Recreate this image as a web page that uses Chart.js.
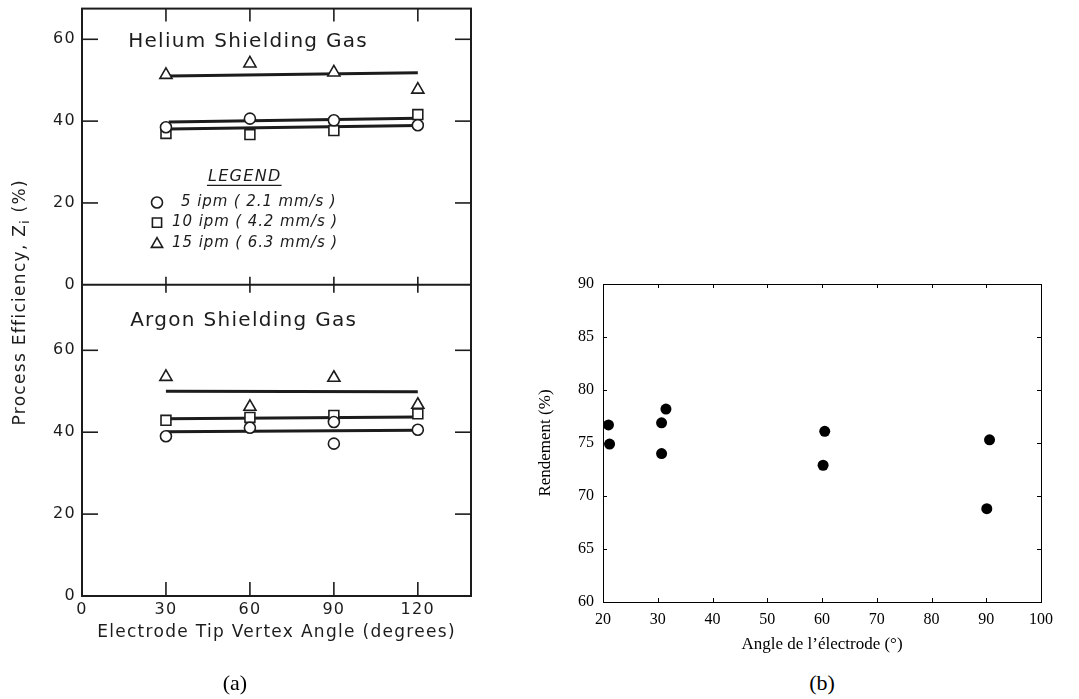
<!DOCTYPE html>
<html>
<head>
<meta charset="utf-8">
<script src="https://cdn.jsdelivr.net/npm/chart.js@4.4.0/dist/chart.umd.min.js"></script>
<style>
  html, body { margin: 0; padding: 0; background: #fff; }
  #page { position: relative; width: 1079px; height: 699px; overflow: hidden; }
  .panel { position: absolute; }
  #scanBox { left: 0; top: 0; width: 520px; height: 699px; }
  #fitBox { left: 520px; top: 270px; width: 559px; height: 400px; }
  .caption { position: absolute; top: 671px; width: 60px; margin-left: -30px; text-align: center;
             font: 22px "Liberation Serif", serif; line-height: 24px; color: #000; }
</style>
</head>
<body>
<div id="page">
  <div class="panel" id="scanBox"><canvas id="scanChart"></canvas></div>
  <div class="panel" id="fitBox"><canvas id="fitChart"></canvas></div>
  <div class="caption" style="left:235px">(a)</div>
  <div class="caption" style="left:822px">(b)</div>
</div>
<script>
// ---- panel (a): process efficiency vs electrode tip vertex angle ----
const angles = [30, 60, 90, 120];
const heliumAt5 = [38.5, 40.6, 40.2, 39.0];
const heliumAt10 = [37.0, 36.7, 37.7, 41.6];
const heliumAt15 = [51.3, 54.1, 51.9, 47.7];

const argonAngles5 = [30, 60, 90, 90, 120];
const argonAt5 = [39.0, 41.1, 42.5, 37.2, 40.6];
const argonAt10 = [42.9, 43.6, 44.1, 44.5];
const argonAt15 = [53.5, 46.2, 53.3, 46.7];

// straight fits through each travel speed
const heliumFitAngles = [31, 120];
const heliumFit5 = [39.8, 40.7];
const heliumFit10 = [38.1, 38.9];
const heliumFit15 = [51.0, 51.8];
const argonFitAngles = [30, 120];
const argonFit5 = [40.1, 40.5];
const argonFit10 = [43.3, 43.7];
const argonFit15 = [50.0, 49.9];

const speedLabels = ['5 ipm ( 2.1 mm/s )', '10 ipm ( 4.2 mm/s )', '15 ipm ( 6.3 mm/s )'];

// ---- panel (b): rendement vs angle de l'électrode ----
const electrodeAngle = [21.0, 21.2, 30.7, 31.5, 30.7, 60.5, 60.2, 90.6, 90.1];
const rendement = [76.7, 74.9, 76.9, 78.2, 74.0, 76.1, 72.9, 75.3, 68.8];

const ink = '#1c1c1c';
const markerStyle = ['circle', 'rect', 'triangle'];
const markerRadius = [5.5, 7, 7];
const sans = '"DejaVu Sans", sans-serif';
const serif = '"Liberation Serif", serif';

const pairs = (xs, ys) => xs.map((x, i) => ({ x: x, y: ys[i] }));

function markers(xs, ys, i, axis) {
  return {
    data: pairs(xs, ys), yAxisID: axis, showLine: false, order: 0,
    pointStyle: markerStyle[i], pointRadius: markerRadius[i],
    pointBorderWidth: 1.6, pointBorderColor: ink, pointBackgroundColor: '#fff'
  };
}
function fitLine(xs, ys, axis) {
  return {
    data: pairs(xs, ys), yAxisID: axis, showLine: true, order: 1,
    borderColor: ink, borderWidth: 3, pointRadius: 0
  };
}

function seg(ctx, x1, y1, x2, y2) {
  ctx.beginPath(); ctx.moveTo(x1, y1); ctx.lineTo(x2, y2); ctx.stroke();
}

// keep label padding from pushing the plot box around
function fixedWidth(w) {
  return s => { s.width = w; s.paddingTop = 0; s.paddingBottom = 0; };
}
function fixedHeight(h) {
  return s => { s.height = h; s.paddingLeft = 0; s.paddingRight = 0; };
}

// box, divider, inward ticks and the hand-lettered annotations of panel (a)
const scanFrame = {
  id: 'scanFrame',
  beforeDraw(chart) {
    // the stencil lettering is wide, so open up every string a little
    chart.ctx.letterSpacing = '1.3px';
  },
  beforeDatasetsDraw(chart) {
    const { ctx, chartArea: a, scales } = chart;
    const x = scales.x, he = scales.yHe, ar = scales.yAr;
    const mid = he.bottom;
    ctx.save();
    ctx.strokeStyle = ink;
    ctx.lineWidth = 2;
    ctx.strokeRect(a.left, a.top, a.width, a.height);
    seg(ctx, a.left, mid, a.right, mid);
    ctx.lineWidth = 1.6;
    x.ticks.forEach(t => {
      if (t.value === 0) return;
      const px = x.getPixelForValue(t.value);
      seg(ctx, px, a.top, px, a.top + 13);
      seg(ctx, px, mid - 8, px, mid + 8);
      seg(ctx, px, a.bottom - 14, px, a.bottom);
    });
    [he, ar].forEach(s => s.ticks.forEach(t => {
      if (t.value === 0) return;
      const py = s.getPixelForValue(t.value);
      seg(ctx, a.left, py, a.left + 16, py);
      seg(ctx, a.right - 16, py, a.right, py);
    }));
    ctx.restore();
  },
  afterDraw(chart) {
    const { ctx, chartArea: a, scales } = chart;
    const x = scales.x, he = scales.yHe, ar = scales.yAr;
    ctx.save();
    ctx.fillStyle = ink;
    ctx.textBaseline = 'middle';
    ctx.textAlign = 'left';

    ctx.font = '20px ' + sans;
    ctx.fillText('Helium Shielding Gas', x.getPixelForValue(16.5), he.getPixelForValue(59.3));
    ctx.fillText('Argon Shielding Gas', x.getPixelForValue(17.2), ar.getPixelForValue(67.1));

    // legend block
    ctx.font = 'italic 16px ' + sans;
    const lx = x.getPixelForValue(45), ly = he.getPixelForValue(26.5);
    ctx.fillText('LEGEND', lx, ly);
    const lw = ctx.measureText('LEGEND').width;
    ctx.strokeStyle = ink;
    ctx.lineWidth = 1.4;
    seg(ctx, lx - 1, ly + 9, lx + lw, ly + 9);

    const rowValues = [20.1, 15.2, 10.3];
    const textAt = [35.4, 32.2, 32.2];
    ctx.font = 'italic 15px ' + sans;
    ctx.letterSpacing = '0.9px';
    speedLabels.forEach((label, i) => {
      const py = he.getPixelForValue(rowValues[i]);
      const mx = x.getPixelForValue(26.8);
      ctx.fillStyle = '#fff';
      ctx.lineWidth = 1.6;
      Chart.helpers.drawPoint(ctx, { pointStyle: markerStyle[i], radius: i === 0 ? 5.5 : 6.5, borderWidth: 1.6, rotation: 0 },
        mx, py + (i === 2 ? 1.5 : 0));
      ctx.fillStyle = ink;
      ctx.fillText(label, x.getPixelForValue(textAt[i]), py);
    });

    // shared y title with subscript
    ctx.letterSpacing = '1.3px';
    ctx.translate(a.left - 61, (a.top + a.bottom) / 2);
    ctx.rotate(-Math.PI / 2);
    const p1 = 'Process Efficiency, Z', p2 = 'i', p3 = ' (%)';
    ctx.font = '17px ' + sans;
    const w1 = ctx.measureText(p1).width, w3 = ctx.measureText(p3).width;
    ctx.font = '12px ' + sans;
    const w2 = ctx.measureText(p2).width;
    let x0 = -(w1 + w2 + w3) / 2;
    ctx.font = '17px ' + sans;
    ctx.fillText(p1, x0, 0);
    ctx.font = '12px ' + sans;
    ctx.fillText(p2, x0 + w1, 5);
    ctx.font = '17px ' + sans;
    ctx.fillText(p3, x0 + w1 + w2, 0);
    ctx.restore();
  }
};

const efficiencyTicks = {
  stepSize: 20, includeBounds: false, color: ink, padding: 6,
  font: { family: sans, size: 16 }
};
const noGrid = { display: false, drawTicks: false };

new Chart(document.getElementById('scanChart'), {
  type: 'scatter',
  data: {
    datasets: [
      markers(angles, heliumAt5, 0, 'yHe'),
      markers(angles, heliumAt10, 1, 'yHe'),
      markers(angles, heliumAt15, 2, 'yHe'),
      markers(argonAngles5, argonAt5, 0, 'yAr'),
      markers(angles, argonAt10, 1, 'yAr'),
      markers(angles, argonAt15, 2, 'yAr'),
      fitLine(heliumFitAngles, heliumFit5, 'yHe'),
      fitLine(heliumFitAngles, heliumFit10, 'yHe'),
      fitLine(heliumFitAngles, heliumFit15, 'yHe'),
      fitLine(argonFitAngles, argonFit5, 'yAr'),
      fitLine(argonFitAngles, argonFit10, 'yAr'),
      fitLine(argonFitAngles, argonFit15, 'yAr')
    ]
  },
  options: {
    responsive: true,
    maintainAspectRatio: false,
    animation: false,
    layout: { padding: { top: 8.5, right: 49, left: 0, bottom: 0 } },
    plugins: { legend: { display: false }, tooltip: { enabled: false } },
    scales: {
      x: {
        type: 'linear', position: 'bottom', min: 0, max: 139,
        grid: noGrid, border: { display: false },
        ticks: { stepSize: 30, includeBounds: false, color: ink, padding: 4, font: { family: sans, size: 16 } },
        title: {
          display: true, text: 'Electrode Tip Vertex Angle (degrees)', color: ink,
          font: { family: sans, size: 17 }, padding: { top: 0, bottom: 56 }
        },
        afterFit: fixedHeight(103)
      },
      yAr: {
        type: 'linear', position: 'left', stack: 'gas', stackWeight: 311,
        min: 0, max: 76,
        grid: noGrid, border: { display: false },
        ticks: efficiencyTicks,
        afterFit: fixedWidth(82)
      },
      yHe: {
        type: 'linear', position: 'left', stack: 'gas', stackWeight: 276,
        min: 0, max: 67.5,
        grid: noGrid, border: { display: false },
        ticks: efficiencyTicks,
        afterFit: fixedWidth(82)
      }
    }
  },
  plugins: [scanFrame]
});

// thin box with short inward ticks on all four sides
const fitFrame = {
  id: 'fitFrame',
  beforeDatasetsDraw(chart) {
    const { ctx, chartArea: a, scales } = chart;
    const x = scales.x, y = scales.y;
    ctx.save();
    ctx.strokeStyle = '#000';
    ctx.lineWidth = 1;
    ctx.strokeRect(a.left + 0.5, a.top + 0.5, a.width, a.height);
    x.ticks.forEach(t => {
      const px = Math.round(x.getPixelForValue(t.value)) + 0.5;
      seg(ctx, px, a.bottom, px, a.bottom - 4);
      seg(ctx, px, a.top, px, a.top + 4);
    });
    y.ticks.forEach(t => {
      const py = Math.round(y.getPixelForValue(t.value)) + 0.5;
      seg(ctx, a.left, py, a.left + 4, py);
      seg(ctx, a.right, py, a.right - 4, py);
    });
    ctx.restore();
  }
};

new Chart(document.getElementById('fitChart'), {
  type: 'scatter',
  data: {
    datasets: [{
      data: pairs(electrodeAngle, rendement),
      pointRadius: 5.5, pointBackgroundColor: '#000', pointBorderColor: '#000', pointBorderWidth: 0
    }]
  },
  options: {
    responsive: true,
    maintainAspectRatio: false,
    animation: false,
    layout: { padding: { top: 14, right: 38, left: 0, bottom: 0 } },
    plugins: { legend: { display: false }, tooltip: { enabled: false } },
    scales: {
      x: {
        type: 'linear', min: 20, max: 100,
        grid: noGrid, border: { display: false },
        ticks: { stepSize: 10, color: '#000', padding: 8, font: { family: serif, size: 16 } },
        title: {
          display: true, text: 'Angle de l\u2019électrode (°)', color: '#000',
          font: { family: serif, size: 17 }, padding: { top: 0, bottom: 15 }
        },
        afterFit: fixedHeight(68)
      },
      y: {
        type: 'linear', min: 60, max: 90,
        grid: noGrid, border: { display: false },
        ticks: { stepSize: 5, color: '#000', padding: 9, font: { family: serif, size: 16 } },
        title: {
          display: true, text: 'Rendement (%)', color: '#000',
          font: { family: serif, size: 17 }, padding: { top: 15, bottom: 0 }
        },
        afterFit: fixedWidth(83)
      }
    }
  },
  plugins: [fitFrame]
});
</script>
</body>
</html>
